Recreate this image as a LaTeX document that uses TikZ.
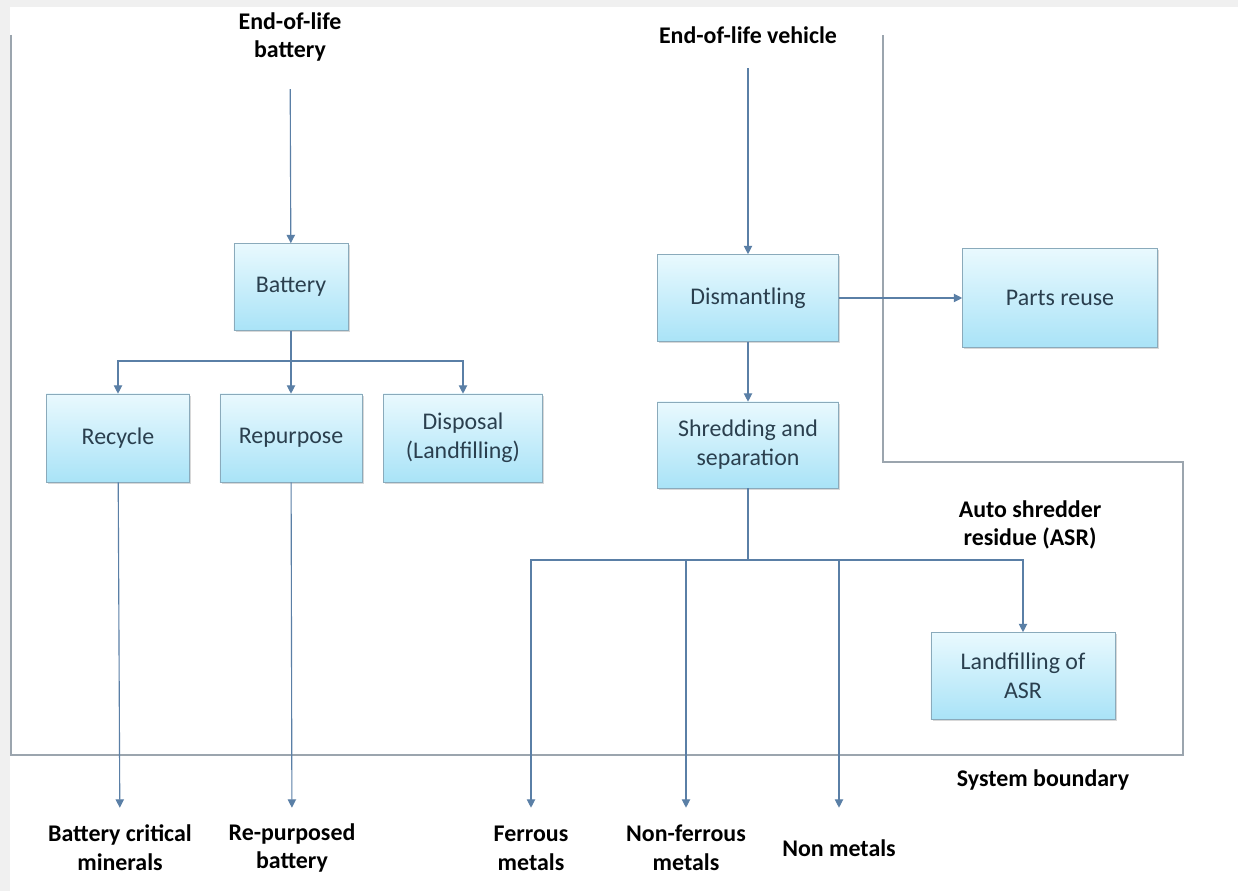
\documentclass[tikz,border=0pt]{standalone}
\usepackage{fontspec}
\setmainfont{Carlito}
\usepackage{tikz}
\usetikzlibrary{shapes, arrows, arrows.meta, positioning, calc, shadows}

\definecolor{flowblue}{HTML}{5A7FA6}
\definecolor{boxedge}{HTML}{8AAABB}
\definecolor{boxtop}{HTML}{E9F9FE}
\definecolor{boxbot}{HTML}{A9E3F7}
\definecolor{boxtext}{HTML}{2A3F4E}
\definecolor{boundgray}{HTML}{9BA5AE}

\begin{document}
\begin{tikzpicture}[x=0.025cm, y=-0.025cm,
		procbox/.style={draw=boxedge, top color=boxtop, bottom color=boxbot, text=boxtext,
			align=center, font=\fontsize{17}{20.5}\selectfont,
			drop shadow={shadow xshift=1.2pt, shadow yshift=-1.2pt, opacity=0.3}},
		lbl/.style={align=center, font=\fontsize{17}{20.5}\selectfont\bfseries},
		outlbl/.style={lbl, minimum height=2cm},
		flow/.style={draw=flowblue, line width=0.8pt, -{Triangle[width=6pt, length=6pt]}},
		bound/.style={draw=boundgray, line width=0.8pt}]
			\fill[gray!12] (0,0) rectangle (1238,891);
			\fill[white] (10,7) rectangle (1238,891);
			\useasboundingbox (0,0) rectangle (1238,891);

			\draw[bound] (11,35) -- (11,755) -- (1183,755) -- (1183,462) -- (883,462) -- (883,35);

			\node[lbl] (eolbat) at (290,37) {End-of-life\\battery};
			\node[procbox, minimum width=2.85cm, minimum height=2.175cm] (battery) at (291,287) {Battery};
			\node[procbox, minimum width=3.575cm, minimum height=2.2cm] (recycle) at (118,438) {Recycle};
			\node[procbox, minimum width=3.55cm, minimum height=2.2cm] (repurpose) at (291,438) {Repurpose};
			\node[procbox, minimum width=3.975cm, minimum height=2.2cm] (disposal) at (463,438) {Disposal\\(Landfilling)};
			\node[outlbl] (minerals) at (120,848) {Battery critical\\minerals};
			\node[outlbl] (repbat) at (292,848) {Re-purposed\\battery};

			\node[lbl] (eolveh) at (748,35) {End-of-life vehicle};
			\node[procbox, minimum width=4.525cm, minimum height=2.175cm] (dismantle) at (748,298) {Dismantling};
			\node[procbox, minimum width=4.875cm, minimum height=2.475cm] (partsreuse) at (1060,298) {Parts reuse};
			\node[procbox, minimum width=4.525cm, minimum height=2.15cm] (shred) at (748,445) {Shredding and\\separation};
			\node[procbox, minimum width=4.6cm, minimum height=2.175cm] (asrfill) at (1023,676) {Landfilling of\\ASR};
			\node[lbl] (asr) at (1030,525) {Auto shredder\\residue (ASR)};
			\node[lbl] (sysbound) at (1043,780) {System boundary};
			\node[outlbl] (ferrous) at (531,848) {Ferrous\\metals};
			\node[outlbl] (nonferrous) at (686,848) {Non-ferrous\\metals};
			\node[outlbl] (nonmetal) at (839,848) {Non metals};

			\coordinate (bsplit) at (291,361);
			\coordinate (ssplit) at (748,560);

			\draw[flow, shorten <=16pt] (eolbat) -- (battery);
			\draw[flow, shorten <=14pt] (eolveh) -- (dismantle);
			\draw[draw=flowblue, line width=0.8pt] (battery) -- (bsplit);
			\draw[draw=flowblue, line width=0.8pt] (shred) -- (ssplit);

			\foreach \from/\to in {
				bsplit/recycle, bsplit/repurpose, bsplit/disposal,
				ssplit/ferrous, ssplit/nonferrous, ssplit/nonmetal, ssplit/asrfill}
				\draw[flow] (\from) -| (\to.north);

			\foreach \from/\to in {
				recycle/minerals, repurpose/repbat, dismantle/partsreuse, dismantle/shred}
				\draw[flow] (\from) -- (\to);
		\end{tikzpicture}
\end{document}
